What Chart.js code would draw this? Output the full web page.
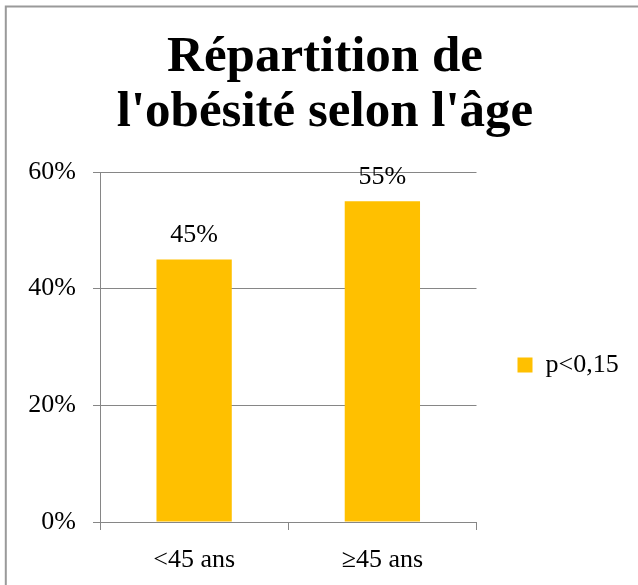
<!DOCTYPE html>
<html>
<head>
<meta charset="utf-8">
<script src="https://cdn.jsdelivr.net/npm/chart.js@4"></script>
<style>
  html, body { margin: 0; padding: 0; background: #ffffff; }
  #wrap { width: 638px; height: 585px; position: relative; }
</style>
</head>
<body>
<div id="wrap"><canvas id="c" width="638" height="585"></canvas></div>
<script>
const titleLines = ['Répartition de', "l'obésité selon l'âge"];
const categories = ['<45 ans', '≥45 ans'];
const seriesName = 'p<0,15';
const values = [45, 55];
const yMin = 0;
const yMax = 60;
const yStep = 20;

const FONT = "'Liberation Serif', 'DejaVu Serif', serif";

const borderPlugin = {
  id: 'outerBorder',
  beforeDraw(chart) {
    const ctx = chart.ctx;
    ctx.save();
    ctx.fillStyle = '#ffffff';
    ctx.fillRect(0, 0, chart.width, chart.height);
    ctx.strokeStyle = '#9a9a9a';
    ctx.lineWidth = 2;
    ctx.beginPath();
    ctx.moveTo(5.8, chart.height + 5);
    ctx.lineTo(5.8, 6.5);
    ctx.lineTo(chart.width + 5, 6.5);
    ctx.stroke();
    ctx.restore();
  }
};

const dataLabelPlugin = {
  id: 'dataLabels',
  afterDatasetsDraw(chart) {
    const ctx = chart.ctx;
    ctx.save();
    ctx.font = '26px ' + FONT;
    ctx.fillStyle = '#000000';
    ctx.textAlign = 'center';
    ctx.textBaseline = 'middle';
    chart.data.datasets.forEach((ds, di) => {
      const meta = chart.getDatasetMeta(di);
      meta.data.forEach((el, i) => {
        ctx.fillText(ds.data[i] + '%', el.x, el.y - 24);
      });
    });
    ctx.restore();
  }
};

new Chart(document.getElementById('c'), {
  type: 'bar',
  data: {
    labels: categories,
    datasets: [{
      label: seriesName,
      data: values,
      backgroundColor: '#FFC000',
      borderWidth: 0,
      barPercentage: 0.4,
      categoryPercentage: 1.0
    }]
  },
  options: {
    responsive: false,
    animation: false,
    devicePixelRatio: 1,
    layout: { padding: { left: 22, right: 10, top: 0, bottom: 0 } },
    plugins: {
      title: {
        display: true,
        text: titleLines,
        color: '#000000',
        font: { family: FONT, size: 51, weight: 'bold', lineHeight: 55 / 51 },
        padding: { top: 30, bottom: 32 }
      },
      legend: {
        display: true,
        position: 'right',
        fullSize: false,
        align: 'center',
        title: { display: true, text: '', font: { size: 10, lineHeight: 1.2 }, padding: { top: 24, bottom: 0 } },
        labels: {
          boxWidth: 15,
          boxHeight: 15,
          padding: 41,
          color: '#000000',
          font: { family: FONT, size: 26 }
        }
      },
      tooltip: { enabled: false }
    },
    scales: {
      x: {
        offset: true,
        grid: {
          display: true,
          drawOnChartArea: false,
          drawTicks: true,
          tickLength: 8,
          color: '#868686',
          lineWidth: 1,
          offset: true
        },
        border: { display: true, color: '#868686', width: 1 },
        ticks: {
          color: '#000000',
          font: { family: FONT, size: 26 },
          padding: 15,
          maxRotation: 0
        },
        afterFit(scale) { scale.height = 63; }
      },
      y: {
        min: yMin,
        max: yMax,
        grid: {
          display: true,
          drawOnChartArea: true,
          drawTicks: true,
          tickLength: 7,
          color: '#868686',
          lineWidth: 1
        },
        border: { display: true, color: '#868686', width: 1 },
        ticks: {
          stepSize: yStep,
          color: '#000000',
          font: { family: FONT, size: 26 },
          padding: 17,
          callback: (v) => v + '%'
        },
        afterFit(scale) { scale.width = 78; }
      }
    }
  },
  plugins: [borderPlugin, dataLabelPlugin]
});
</script>
</body>
</html>
